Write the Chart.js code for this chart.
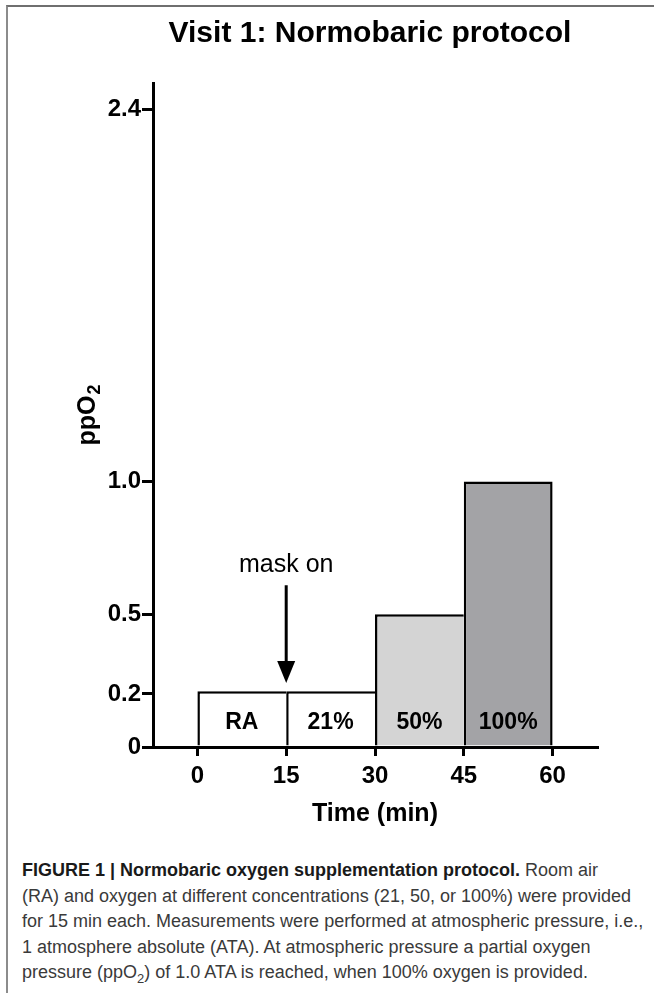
<!DOCTYPE html>
<html>
<head>
<meta charset="utf-8">
<title>Visit 1: Normobaric protocol</title>
<script src="https://cdn.jsdelivr.net/npm/chart.js@4.4.1/dist/chart.umd.min.js"></script>
<style>
  html, body { margin: 0; padding: 0; background: #fff; }
  #fig { position: relative; width: 654px; height: 993px; overflow: hidden;
    font-family: 'Liberation Sans', Arial, Helvetica, sans-serif; }
  #frame { position: absolute; left: 6px; top: 5px; right: -10px; bottom: -10px;
    border-top: 2px solid #6f6f6f; border-left: 2px solid #8c8c8c; }
  #title { position: absolute; left: 0; top: 17px; width: 740px; text-align: center;
    font-weight: bold; font-size: 30px; line-height: 30px; color: #000; }
  #chart-box { position: absolute; left: 0; top: 0; width: 654px; height: 850px; }
  #caption { position: absolute; left: 22px; top: 858px; font-size: 18px; line-height: 25.5px;
    color: #3a3a3a; white-space: nowrap; }
  #caption b { color: #1a1a1a; }
</style>
</head>
<body>
<div id="fig">
  <div id="frame"></div>
  <div id="chart-box"><canvas id="chart" width="654" height="850"></canvas></div>
  <div id="title">Visit 1: Normobaric protocol</div>
  <div id="caption"><b>FIGURE 1 | Normobaric oxygen supplementation protocol.</b> Room air<br>(RA) and oxygen at different concentrations (21, 50, or 100%) were provided<br>for 15 min each. Measurements were performed at atmospheric pressure, i.e.,<br>1 atmosphere absolute (ATA). At atmospheric pressure a partial oxygen<br>pressure (ppO<sub style="font-size:13px;line-height:0">2</sub>) of 1.0 ATA is reached, when 100% oxygen is provided.</div>
</div>
<script>
// protocol phases, 15 min each
const phases = ['RA', '21%', '50%', '100%'];
const phaseMid = [7.5, 22.5, 37.5, 52.5];      // min, middle of each block
const ppO2 = [0.21, 0.21, 0.5, 1.0];
const barColors = ['#ffffff', '#ffffff', '#d4d4d4', '#a3a3a6'];

const xTicks = [0, 15, 30, 45, 60];
const yTicks = [0, 0.2, 0.5, 1.0, 2.4];
const yTickLabels = ['0', '0.2', '0.5', '1.0', '2.4'];

// "mask on" marker (data units)
const maskOnLabel = 'mask on';
const maskOnTime = 15;
const maskOnText = 0.658;
const arrowFrom = 0.609;
const arrowTo = 0.241;
const phaseLabelLevel = 0.09;

const FONT = "'Liberation Sans', Arial, Helvetica, sans-serif";
const last = phases.length - 1;

const annotate = {
  id: 'annotate',
  afterDatasetsDraw(chart) {
    const { ctx, chartArea, scales: { x, y } } = chart;
    ctx.save();
    ctx.fillStyle = '#000';
    ctx.strokeStyle = '#000';
    ctx.textAlign = 'center';
    ctx.textBaseline = 'middle';
    ctx.font = `bold 23px ${FONT}`;
    phases.forEach((p, i) => {
      ctx.fillText(p, x.getPixelForValue(phaseMid[i]), y.getPixelForValue(phaseLabelLevel));
    });
    const ax = x.getPixelForValue(maskOnTime);
    const top = y.getPixelForValue(arrowFrom);
    const tip = y.getPixelForValue(arrowTo);
    ctx.lineWidth = 3;
    ctx.beginPath();
    ctx.moveTo(ax, top);
    ctx.lineTo(ax, tip - 20);
    ctx.stroke();
    ctx.beginPath();
    ctx.moveTo(ax - 9, tip - 22);
    ctx.lineTo(ax + 9, tip - 22);
    ctx.lineTo(ax, tip);
    ctx.closePath();
    ctx.fill();
    ctx.font = `25px ${FONT}`;
    ctx.textBaseline = 'alphabetic';
    ctx.fillText(maskOnLabel, ax, y.getPixelForValue(maskOnText));

    // y axis title with a real subscript: ppO2
    ctx.translate(87, (chartArea.top + chartArea.bottom) / 2);
    ctx.rotate(-Math.PI / 2);
    ctx.textAlign = 'left';
    const main = 'ppO', sub = '2';
    ctx.font = `bold 25px ${FONT}`;
    const wMain = ctx.measureText(main).width;
    ctx.font = `bold 18px ${FONT}`;
    const wSub = ctx.measureText(sub).width;
    const x0 = -(wMain + wSub + 1) / 2;
    ctx.font = `bold 25px ${FONT}`;
    ctx.fillText(main, x0, 8);
    ctx.font = `bold 18px ${FONT}`;
    ctx.fillText(sub, x0 + wMain + 1, 13);
    ctx.restore();
  }
};

const axisLine = { display: true, color: '#000', width: 3 };

new Chart(document.getElementById('chart'), {
  type: 'bar',
  data: {
    datasets: [{
      data: phaseMid.map((t, i) => ({ x: t, y: ppO2[i] })),
      backgroundColor: barColors,
      borderColor: '#000',
      borderWidth: (c) => c.dataIndex === last
        ? { left: 2.5, top: 2.5, right: 2.5, bottom: 0 }
        : { left: 2.5, top: 2.5, right: 0, bottom: 0 },
      borderSkipped: 'start',
      barPercentage: 1,
      categoryPercentage: 1,
      inflateAmount: 0,
    }],
  },
  options: {
    responsive: false,
    animation: false,
    events: [],
    devicePixelRatio: 1,
    layout: { padding: { top: 83, right: 57, bottom: 0, left: 0 } },
    plugins: { legend: { display: false }, tooltip: { enabled: false }, title: { display: false } },
    scales: {
      x: {
        type: 'linear',
        min: -7.5,
        max: 67.5,
        offset: false,
        afterBuildTicks: (s) => { s.ticks = xTicks.map((v) => ({ value: v })); },
        afterFit: (s) => { s.height = 103; },
        grid: { display: true, offset: false, drawOnChartArea: false, drawTicks: true,
          tickLength: 9, tickWidth: 3, tickColor: '#000', color: '#000', lineWidth: 3 },
        border: axisLine,
        ticks: { color: '#000', padding: 6, maxRotation: 0, autoSkip: false,
          font: { family: FONT, size: 24, weight: 'bold' } },
        title: { display: true, text: 'Time (min)', color: '#000', padding: { top: 0, bottom: 21 },
          font: { family: FONT, size: 25, weight: 'bold' } },
      },
      y: {
        type: 'linear',
        min: 0,
        max: 2.5,
        afterBuildTicks: (s) => { s.ticks = yTicks.map((v) => ({ value: v })); },
        afterFit: (s) => { s.width = 153; },
        grid: { display: true, drawOnChartArea: false, drawTicks: true,
          tickLength: 11, tickWidth: 3, tickColor: '#000', color: '#000', lineWidth: 3 },
        border: axisLine,
        ticks: { color: '#000', padding: 1, autoSkip: false,
          callback: (v, i) => yTickLabels[i],
          font: { family: FONT, size: 24, weight: 'bold' } },
        title: { display: false },
      },
    },
  },
  plugins: [annotate],
});
</script>
</body>
</html>
